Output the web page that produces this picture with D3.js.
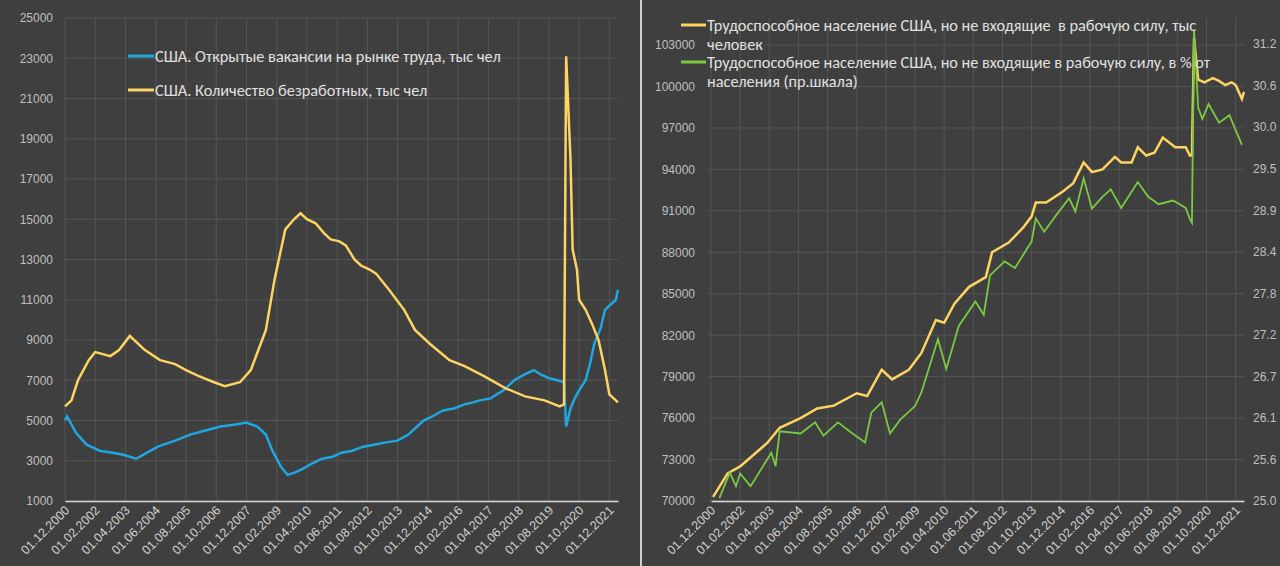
<!DOCTYPE html>
<html>
<head>
<meta charset="utf-8">
<script src="https://cdn.jsdelivr.net/npm/d3@7"></script>
<style>
  body { margin: 0; background: #3f3f3f; }
  svg { display: block; font-family: Calibri, "Liberation Sans", "Open Sans", sans-serif; }
  .tick text { fill: #bfbfbf; font-size: 12px; }
  .grid line { stroke: #555; }
  .legend { fill: #e0e0e0; font-size: 16.3px; }
</style>
</head>
<body>
<div id="chart"></div>
<script>
// months counted from 01.12.2000
var tickLabels = ["01.12.2000","01.02.2002","01.04.2003","01.06.2004","01.08.2005","01.10.2006","01.12.2007",
  "01.02.2009","01.04.2010","01.06.2011","01.08.2012","01.10.2013","01.12.2014","01.02.2016","01.04.2017",
  "01.06.2018","01.08.2019","01.10.2020","01.12.2021"];

// left chart: job openings (blue)
var vacMonths = [0,1,5,10,16,22,27,30,33,38,43,51,58,65,72,79,84,89,93,96,100,103,106,110,115,119,124,128,133,138,143,148,154,159,163,166,170,175,180,185,189,192,197,203,208,213,217,220,224,228,231,232,234,236,238,241,243,245,248,250,253,255,256];
var vacValues = [5000,5200,4400,3800,3500,3400,3300,3200,3100,3400,3700,4000,4300,4500,4700,4800,4900,4700,4300,3500,2700,2300,2400,2600,2900,3100,3200,3400,3500,3700,3800,3900,4000,4300,4700,5000,5200,5500,5600,5800,5900,6000,6100,6500,7000,7300,7500,7300,7100,7000,6900,4700,5600,6100,6500,7000,7800,8800,9600,10500,10800,11000,11500];

// left chart: unemployed (yellow)
var unMonths = [0,3,6,11,14,21,25,30,37,44,51,56,62,69,74,81,86,93,97,102,106,109,112,116,120,123,127,130,134,137,141,144,150,157,162,169,178,185,194,204,213,222,229,231,232,234,235,237,238,241,244,247,250,252,254,256];
var unValues = [5700,6000,7000,8000,8400,8200,8500,9200,8500,8000,7800,7500,7200,6900,6700,6900,7500,9500,12000,14500,15000,15300,15000,14800,14300,14000,13900,13700,13000,12700,12500,12300,11500,10500,9500,8800,8000,7700,7200,6600,6200,6000,5700,5800,23100,18000,13500,12500,11000,10500,9800,9000,7500,6300,6100,5900];

// right chart: not in labour force, thousands (yellow)
var nlfMonths = [1,8,14,27,33,43,51,59,70,75,82,87,95,101,108,112,117,124,132,135,143,150,154,156,161,169,174,179,183,188,194,197,202,205,209,213,217,223,228,230,231,232,234,237,241,244,247,250,252,255,256];
var nlfValues = [70300,72000,72500,74200,75300,76000,76700,76900,77800,77600,79500,78800,79500,80700,83100,82900,84300,85500,86200,88000,88700,89800,90600,91600,91600,92400,93000,94500,93800,94000,94900,94500,94500,95600,95000,95200,96300,95600,95600,95000,95000,103500,100500,100300,100600,100400,100100,100300,100100,99100,99600];

// right chart: not in labour force, % of population (green)
var pctMonths = [4,9,12,14,19,29,31,33,43,50,54,61,67,74,77,82,86,91,98,101,109,113,119,127,131,134,141,146,154,156,160,166,172,175,179,183,188,192,197,205,210,215,222,228,230,231,232,234,236,239,244,249,252,255];
var pctValues = [25.04,25.38,25.2,25.37,25.2,25.65,25.47,25.94,25.91,26.06,25.88,26.06,25.93,25.79,26.19,26.33,25.91,26.1,26.28,26.46,27.18,26.78,27.36,27.69,27.51,28.04,28.23,28.14,28.5,28.81,28.63,28.86,29.08,28.9,29.35,28.94,29.1,29.2,28.95,29.3,29.1,29.0,29.05,28.95,28.8,28.75,31.35,30.3,30.15,30.35,30.1,30.2,30.0,29.8];

var leftTicks = d3.range(1000, 25001, 2000);
var rightTicks = d3.range(70000, 103001, 3000);
var pctTicks = d3.range(12).map(i => 25 + i * 0.56);

var svg = d3.select("#chart").append("svg").attr("width", 1280).attr("height", 566);
svg.append("rect").attr("width", 1280).attr("height", 566).attr("fill", "#3f3f3f");
svg.append("line").attr("x1", 641).attr("x2", 641).attr("y1", 0).attr("y2", 566)
  .attr("stroke", "#cfcfcf").attr("stroke-width", 2);

function xAxis(g, x, bottom) {
  var monthTicks = d3.range(0, 253, 14);
  g.append("g").attr("class", "grid")
    .selectAll("line").data(monthTicks).enter().append("line")
    .attr("x1", d => x(d)).attr("x2", d => x(d)).attr("y1", 18).attr("y2", bottom);
  var ax = g.append("g").attr("transform", `translate(0,${bottom})`)
    .call(d3.axisBottom(x).tickValues(monthTicks).tickSize(0).tickFormat((d, i) => tickLabels[i]));
  ax.select(".domain").attr("stroke", "#d9d9d9").attr("stroke-width", 1.5);
  ax.selectAll("text").attr("transform", "rotate(-45)").attr("text-anchor", "end")
    .attr("dx", "-0.3em").attr("dy", "0.6em").style("font-size", "12.5px").style("fill", "#d0d0d0");
}

function yGrid(g, y, ticks, x0, x1) {
  g.append("g").attr("class", "grid").selectAll("line").data(ticks).enter().append("line")
    .attr("x1", x0).attr("x2", x1).attr("y1", d => y(d)).attr("y2", d => y(d));
}

function line(months, values, x, y) {
  return d3.line().x((d, i) => x(months[i])).y(d => y(d))(values);
}

// ---- left chart
var xL = d3.scaleLinear().domain([0, 256]).range([65, 618]);
var yL = d3.scaleLinear().domain([1000, 25000]).range([501, 18]);
var gL = svg.append("g");
yGrid(gL, yL, leftTicks, 65, 618);
xAxis(gL, xL, 501);
var axL = gL.append("g").attr("transform", "translate(62,0)")
  .call(d3.axisLeft(yL).tickValues(leftTicks).tickSize(0).tickFormat(d3.format("d")));
axL.select(".domain").remove();
axL.selectAll("text").attr("dx", "-6");

gL.append("path").attr("d", line(vacMonths, vacValues, xL, yL))
  .attr("fill", "none").attr("stroke", "#1ea7e1").attr("stroke-width", 2.5);
gL.append("path").attr("d", line(unMonths, unValues, xL, yL))
  .attr("fill", "none").attr("stroke", "#fdd462").attr("stroke-width", 2.5);

[["США. Открытые вакансии на рынке труда, тыс чел", "#1ea7e1", 56],
 ["США. Количество безработных, тыс чел", "#fdd462", 90]].forEach(function(l) {
  gL.append("line").attr("x1", 128).attr("x2", 154).attr("y1", l[2]).attr("y2", l[2])
    .attr("stroke", l[1]).attr("stroke-width", 3);
  gL.append("text").attr("class", "legend").attr("x", 155).attr("y", l[2] + 6).text(l[0]);
});

// ---- right chart
var xR = d3.scaleLinear().domain([0, 256]).range([711, 1244]);
var yR = d3.scaleLinear().domain([70000, 103000]).range([501, 45]);
var yP = d3.scaleLinear().domain([25, 31.16]).range([501, 44]);
var gR = svg.append("g");
yGrid(gR, yR, rightTicks, 708, 1244);
xAxis(gR, xR, 501);
var axR = gR.append("g").attr("transform", "translate(700,0)")
  .call(d3.axisLeft(yR).tickValues(rightTicks).tickSize(0).tickFormat(d3.format("d")));
axR.select(".domain").remove();
axR.selectAll("text").attr("dx", "-2");
var axP = gR.append("g").attr("transform", "translate(1248,0)")
  .call(d3.axisRight(yP).tickValues(pctTicks).tickSize(0).tickFormat(d3.format(".1f")));
axP.select(".domain").remove();
axP.selectAll("text").attr("dx", "2");

gR.append("path").attr("d", line(nlfMonths, nlfValues, xR, yR))
  .attr("fill", "none").attr("stroke", "#fdd462").attr("stroke-width", 2.5);
gR.append("path").attr("d", line(pctMonths, pctValues, xR, yP))
  .attr("fill", "none").attr("stroke", "#7ac943").attr("stroke-width", 1.8);

[[["Трудоспособное население США, но не входящие  в рабочую силу, тыс", "человек"], "#fdd462", 25],
 [["Трудоспособное население США, но не входящие в рабочую силу, в % от", "населения (пр.шкала)"], "#7ac943", 62]].forEach(function(l) {
  gR.append("line").attr("x1", 681).attr("x2", 706).attr("y1", l[2]).attr("y2", l[2])
    .attr("stroke", l[1]).attr("stroke-width", 3);
  l[0].forEach(function(t, i) {
    gR.append("text").attr("class", "legend").attr("x", 707).attr("y", l[2] + 6 + i * 19)
      .style("white-space", "pre").text(t);
  });
});
</script>
</body>
</html>
